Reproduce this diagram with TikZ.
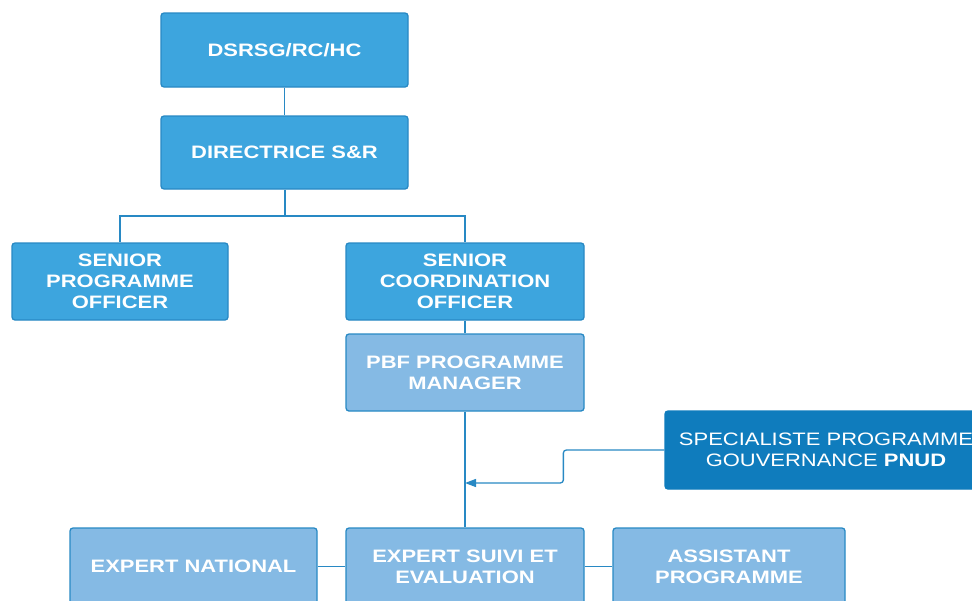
\documentclass[tikz,border=0pt]{standalone}
\usepackage{fontspec}
\setmainfont{Liberation Sans}[FakeStretch=1.22]
\usetikzlibrary{arrows.meta}
\definecolor{boxblue}{RGB}{61,165,222}
\definecolor{lightblue}{RGB}{133,186,228}
\definecolor{darkblue}{RGB}{15,124,189}
\definecolor{edgeblue}{RGB}{40,137,196}
\tikzset{
  unit/.style={rectangle,rounded corners=3pt,draw=edgeblue,line width=1.3pt,
    text=white,align=center,inner sep=0pt,
    font=\fontsize{18}{21}\selectfont\bfseries},
  mainbox/.style={unit,fill=boxblue},
  subbox/.style={unit,fill=lightblue},
  link/.style={draw=edgeblue,line width=1.3pt}
}
\begin{document}
\begin{tikzpicture}[x=1pt,y=-1pt]
\useasboundingbox (0,0) rectangle (972,600);
\clip (0,0) rectangle (972,600);
\fill[white] (0,0) rectangle (972,600);
% top of the chart
\node[mainbox,minimum width=247pt,minimum height=74pt] (dsrsg) at (284.5,50) {DSRSG/RC/HC};
\node[mainbox,minimum width=247pt,minimum height=73pt] (dir) at (284.5,152.5) {DIRECTRICE S\&R};
\node[mainbox,minimum width=216pt,minimum height=77pt] (spo) at (120,281.5) {SENIOR\\PROGRAMME\\OFFICER};
\node[mainbox,minimum width=238pt,minimum height=77pt] (sco) at (465,281.5) {SENIOR\\COORDINATION\\OFFICER};
\node[subbox,minimum width=238pt,minimum height=77pt] (pbf) at (465,372.5) {PBF PROGRAMME\\MANAGER};
\node[unit,fill=darkblue,draw=darkblue,minimum width=322pt,minimum height=78pt,
  font=\fontsize{18}{21}\selectfont] (spec) at (826,450) {SPECIALISTE PROGRAMME\\GOUVERNANCE \textbf{PNUD}};
% bottom row
\node[subbox,minimum width=247pt,minimum height=77pt] (natl) at (193.5,566.5) {EXPERT NATIONAL};
\node[subbox,minimum width=238pt,minimum height=77pt] (suivi) at (465,566.5) {EXPERT SUIVI ET\\EVALUATION};
\node[subbox,minimum width=232pt,minimum height=77pt] (asst) at (729,566.5) {ASSISTANT\\PROGRAMME};
% links
\coordinate (split) at (284.5,216);
\coordinate (hook) at (465,483);
\draw[link] (dsrsg) -- (dir);
\draw[link,line width=2pt] (dir) -- (split);
\draw[link] (split) -| (spo);
\draw[link] (split) -| (sco);
\draw[link] (sco) -- (pbf);
\draw[link] (pbf) -- (suivi);
\draw[link,rounded corners=3pt,-{Triangle[length=11pt,width=8pt]}]
  (spec.west) -- ++(-101,0) |- (hook);
\draw[link] (natl) -- (suivi);
\draw[link] (suivi) -- (asst);
\end{tikzpicture}
\end{document}
